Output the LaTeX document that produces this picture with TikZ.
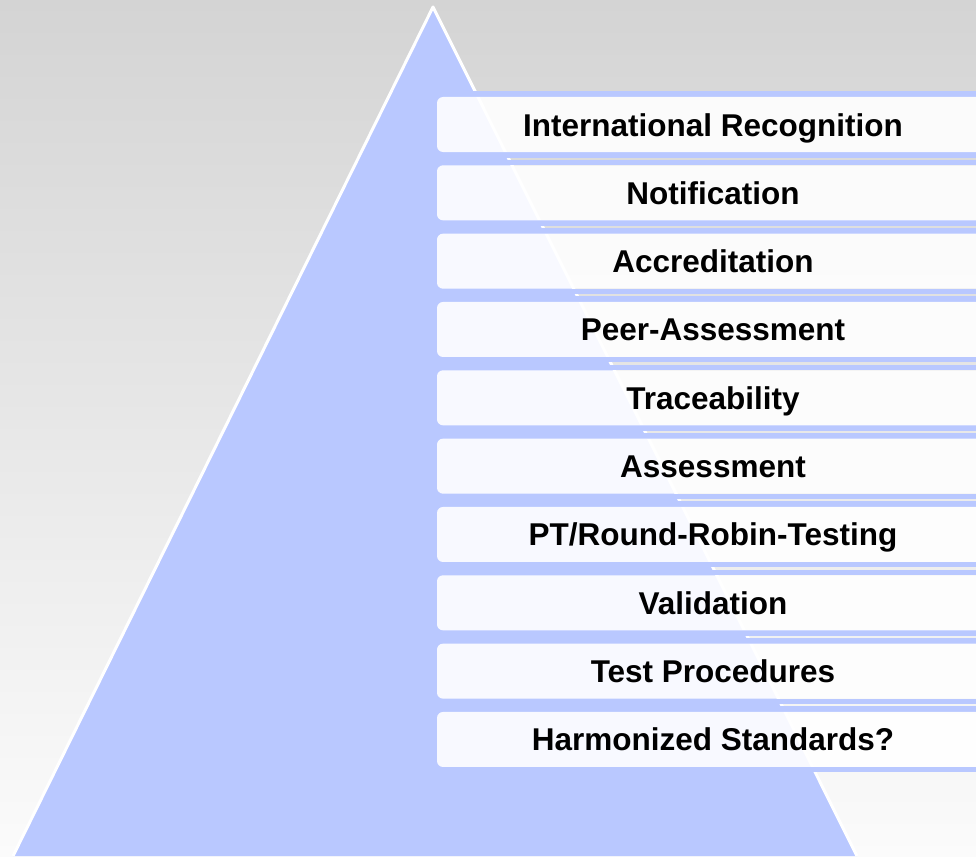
\documentclass[tikz,border=0pt]{standalone}
\usepackage{fontspec}
\setmainfont{Liberation Sans}
\usetikzlibrary{positioning,calc}

\definecolor{pyrblue}{RGB}{185,200,255}
\definecolor{bgtop}{RGB}{212,212,212}
\definecolor{bgbot}{RGB}{251,251,251}

\begin{document}
\begin{tikzpicture}[x=1pt,y=-1pt,
  band/.style={fill=pyrblue},
  levelbox/.style={fill=white,fill opacity=0.9,rounded corners=6pt},
  leveltext/.style={font=\fontsize{31.5}{36}\selectfont\bfseries,anchor=base,inner sep=0pt}]
  \useasboundingbox (0,0) rectangle (976,856);
  \shade[top color=bgtop,bottom color=bgbot] (0,0) rectangle (976,856);

  % pyramid
  \coordinate (T) at (433,7);
  \coordinate (L) at (13,856);
  \coordinate (R) at (857,856);
  \fill[pyrblue] (T)--(L)--(R)--cycle;
  \draw[white,line width=3pt,line join=round] (L)--(T)--(R);

  % levels
  \foreach \name [count=\i from 0] in {International Recognition,Notification,
      Accreditation,Peer-Assessment,Traceability,Assessment,
      PT/Round-Robin-Testing,Validation,Test Procedures,Harmonized Standards?} {
    \pgfmathsetmacro{\t}{97+68.33*\i}
    \fill[band] (437,\t-5.5) rectangle (1000,\t);
    \fill[band] (437,\t+55) rectangle (1000,\t+60.5);
    \fill[levelbox] (437,\t) rectangle (1000,\t+55);
    \node[leveltext] (level\i) at (713,\t+39) {\name};
  }
\end{tikzpicture}
\end{document}
